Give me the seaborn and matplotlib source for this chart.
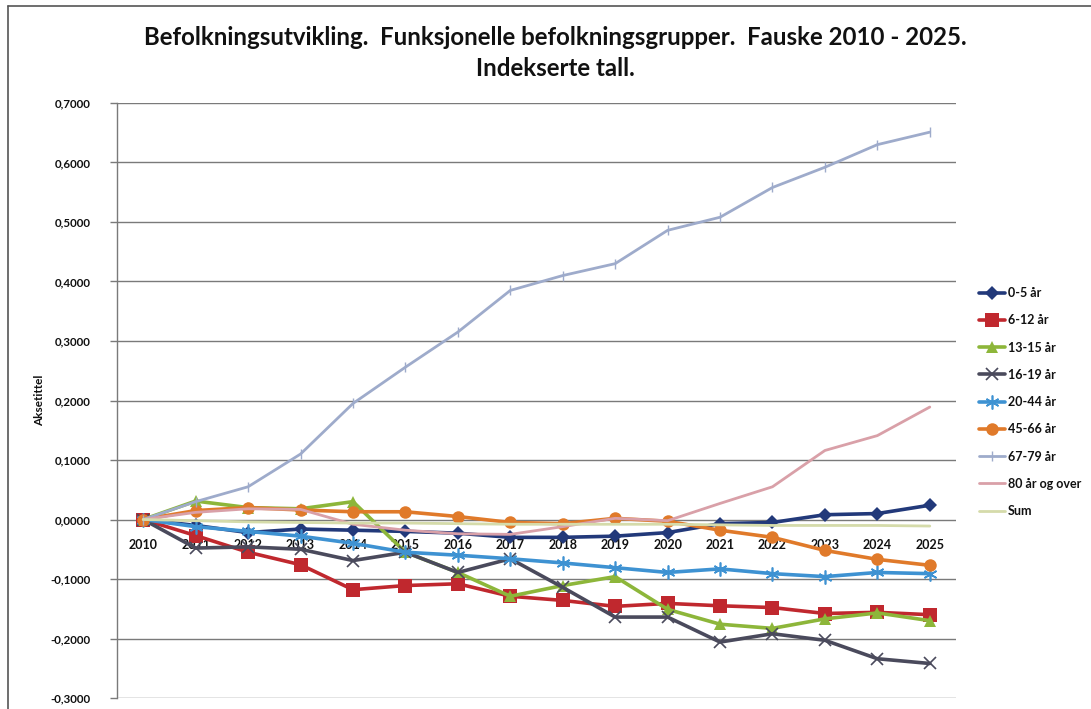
import matplotlib
matplotlib.use("Agg")
import matplotlib.pyplot as plt
import seaborn as sns
import pandas as pd
import numpy as np
from matplotlib.lines import Line2D
from matplotlib.ticker import FuncFormatter

years = list(range(2010, 2026))

v_0_5 = [0.0, -0.010, -0.022, -0.016, -0.018, -0.020, -0.023, -0.030, -0.030, -0.028, -0.022, -0.007, -0.005, 0.008, 0.010, 0.024]
v_6_12 = [0.0, -0.027, -0.055, -0.076, -0.118, -0.111, -0.108, -0.129, -0.136, -0.146, -0.141, -0.145, -0.148, -0.158, -0.156, -0.160]
v_13_15 = [0.0, 0.031, 0.020, 0.018, 0.030, -0.055, -0.089, -0.129, -0.111, -0.096, -0.151, -0.176, -0.183, -0.167, -0.157, -0.170]
v_16_19 = [0.0, -0.048, -0.046, -0.050, -0.069, -0.055, -0.089, -0.066, -0.114, -0.164, -0.164, -0.206, -0.192, -0.203, -0.234, -0.242]
v_20_44 = [0.0, -0.012, -0.020, -0.028, -0.040, -0.055, -0.060, -0.066, -0.073, -0.081, -0.089, -0.083, -0.091, -0.096, -0.089, -0.091]
v_45_66 = [0.0, 0.015, 0.020, 0.016, 0.013, 0.013, 0.005, -0.005, -0.007, 0.002, -0.003, -0.018, -0.030, -0.052, -0.067, -0.077]
v_67_79 = [0.0, 0.030, 0.055, 0.110, 0.195, 0.256, 0.315, 0.385, 0.410, 0.430, 0.486, 0.508, 0.558, 0.592, 0.630, 0.651]
v_80 = [0.0, 0.012, 0.018, 0.017, -0.008, -0.018, -0.024, -0.025, -0.012, 0.002, -0.002, 0.027, 0.055, 0.116, 0.141, 0.189]
v_sum = [0.0, -0.002, -0.004, -0.005, -0.006, -0.006, -0.007, -0.008, -0.008, -0.008, -0.008, -0.009, -0.010, -0.010, -0.010, -0.011]

series_names = ["0-5 år", "6-12 år", "13-15 år", "16-19 år", "20-44 år", "45-66 år", "67-79 år", "80 år og over", "Sum"]
series_values = [v_0_5, v_6_12, v_13_15, v_16_19, v_20_44, v_45_66, v_67_79, v_80, v_sum]

title_text = "Befolkningsutvikling.  Funksjonelle befolkningsgrupper.  Fauske 2010 - 2025.\nIndekserte tall."
ylabel_text = "Aksetittel"

rows = []
for name, vals in zip(series_names, series_values):
    for y, v in zip(years, vals):
        rows.append({"År": y, "Verdi": v, "Gruppe": name})
df = pd.DataFrame(rows)

styles = {
    "0-5 år":        dict(color="#22397A", marker="D", ms=7,  lw=2.6, mew=0),
    "6-12 år":       dict(color="#C0282E", marker="s", ms=10, lw=2.6, mew=0),
    "13-15 år":      dict(color="#8DB63A", marker="^", ms=9,  lw=2.6, mew=0),
    "16-19 år":      dict(color="#4A4A5C", marker="x", ms=8,  lw=2.6, mew=1.2),
    "20-44 år":      dict(color="#3E92D2", marker=(6, 2, 0), ms=10, lw=2.6, mew=1.2),
    "45-66 år":      dict(color="#E07A2A", marker="o", ms=9,  lw=2.6, mew=0),
    "67-79 år":      dict(color="#9EABCB", marker="|", ms=7,  lw=2.0, mew=1.0),
    "80 år og over": dict(color="#D9A0A8", marker=None, ms=0, lw=2.0, mew=0),
    "Sum":           dict(color="#D5DBAA", marker=None, ms=0, lw=2.0, mew=0),
}

sns.set_theme(style="white")
plt.rcParams['font.family'] = ['Lato', 'DejaVu Sans']

fig = plt.figure(figsize=(10.91, 7.09), dpi=100)
ax = fig.add_axes([117/1091, 1-698/709, (956-117)/1091, (698-103)/709])

for name in series_names:
    st = styles[name]
    sub = df[df["Gruppe"] == name]
    kw = dict(color=st["color"], linewidth=st["lw"], label=name)
    if st["marker"] is not None:
        kw.update(marker=st["marker"], markersize=st["ms"], markeredgewidth=st["mew"],
                  markeredgecolor=st["color"], markerfacecolor=st["color"])
    sns.lineplot(data=sub, x="År", y="Verdi", ax=ax, **kw)

ax.set_xlim(2009.5, 2025.5)
ax.set_ylim(-0.3, 0.7)
ax.set_yticks(np.arange(-0.3, 0.7001, 0.1))
ax.yaxis.set_major_formatter(FuncFormatter(lambda v, p: f"{v:.4f}".replace(".", ",").replace("-0,0000", "0,0000")))
ax.set_xticks(years)
ax.set_xticklabels([str(y) for y in years])
ax.grid(axis="y", color="#7a7a7a", linewidth=1.0)
ax.grid(axis="x", visible=False)
ax.set_axisbelow(True)

for s in ["top", "right"]:
    ax.spines[s].set_visible(False)
ax.spines["left"].set_color("#7a7a7a")
ax.spines["left"].set_linewidth(1.0)
ax.spines["bottom"].set_position(("data", 0))
ax.spines["bottom"].set_visible(False)

ax.tick_params(axis="x", length=0, pad=14, labelsize=9, labelcolor="#111111")
ax.tick_params(axis="y", length=5, width=1, color="#7a7a7a", left=True, pad=14, labelsize=8.3, labelcolor="#111111")
for lab in ax.get_xticklabels() + ax.get_yticklabels():
    lab.set_fontweight("bold")

ax.set_xlabel("")
ax.set_ylabel(ylabel_text, fontsize=8.5, fontweight="bold", color="#111111", labelpad=4)

fig.text(555/1091, 1-53/709, title_text, ha="center", va="center", fontsize=17.3,
         fontweight="bold", color="#111111", linespacing=1.45)

leg = ax.legend(loc="upper left", bbox_to_anchor=(974/1091, 1-282/709), bbox_transform=fig.transFigure,
                frameon=False, fontsize=9, handlelength=2.1, handletextpad=0.2,
                labelspacing=1.22, borderaxespad=0)
for t in leg.get_texts():
    t.set_fontweight("bold")
    t.set_color("#111111")

fig.add_artist(Line2D([8/1091, 8/1091], [0, 1-6/709], transform=fig.transFigure, color="#555555", lw=1.2))
fig.add_artist(Line2D([8/1091, 1], [1-6/709, 1-6/709], transform=fig.transFigure, color="#555555", lw=1.2))

fig.savefig("out.png", dpi=100)
